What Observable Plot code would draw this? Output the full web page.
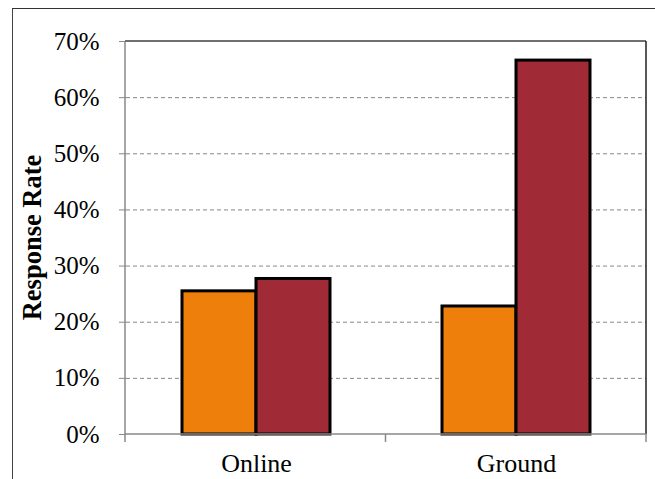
<!DOCTYPE html>
<html>
<head>
<meta charset="utf-8">
<script src="https://cdn.jsdelivr.net/npm/d3@7"></script>
<script src="https://cdn.jsdelivr.net/npm/@observablehq/plot@0.6"></script>
<style>
  html, body { margin: 0; padding: 0; background: #fff; }
  #wrap { position: relative; width: 655px; height: 479px; overflow: hidden; }
  #border { position: absolute; left: 12px; top: 8px; width: 700px; height: 500px;
            border-top: 1.5px solid #333; border-left: 1.5px solid #444; }
  #chart { position: absolute; left: 0; top: 0; }
</style>
</head>
<body>
<div id="wrap"><div id="border"></div><div id="chart"></div></div>
<script>
const categories = ["Online", "Ground"];
const seriesNames = ["Series 1", "Series 2"];
const series1 = [25.5, 22.8];
const series2 = [27.7, 66.6];
const yTicks = [0, 10, 20, 30, 40, 50, 60, 70];
const yTickLabels = ["0%", "10%", "20%", "30%", "40%", "50%", "60%", "70%"];
const colors = ["#EE7F0B", "#A12A37"];
const yLabel = "Response Rate";

const data = [];
categories.forEach((c, i) => {
  data.push({category: c, series: seriesNames[0], value: series1[i]});
  data.push({category: c, series: seriesNames[1], value: series2[i]});
});

const W = 655, H = 479;
const chart = Plot.plot({
  width: W, height: H,
  marginLeft: 125, marginRight: 9, marginTop: 41, marginBottom: 45,
  style: {fontFamily: "'Liberation Serif', 'Times New Roman', serif", fontSize: "25px", color: "#000", background: "transparent"},
  fx: {domain: categories, paddingInner: 0, paddingOuter: 0, label: null},
  x: {domain: seriesNames, paddingInner: 0, paddingOuter: 0.737, axis: null},
  y: {domain: [0, 70], label: null},
  color: {domain: seriesNames, range: colors},
  marks: [
    Plot.gridY(yTicks.filter(d => d > 0 && d < 70), {stroke: "#888", strokeOpacity: 1, strokeWidth: 1, strokeDasharray: "4,3"}),
    Plot.barY(data, {fx: "category", x: "series", y: "value", fill: "series", stroke: "#000", strokeWidth: 3}),
    Plot.axisY(yTicks, {tickFormat: (d, i) => yTickLabels[yTicks.indexOf(d)], tickSize: 7, tickPadding: 20, stroke: "#888", label: null, fontSize: 25}),
    Plot.axisFx({anchor: "bottom", tickSize: 0, tickPadding: 19, label: null, fontSize: 26})
  ]
});
document.getElementById("chart").appendChild(chart);

// Frame lines and category-boundary ticks derived from the plot's own scales
const fxS = chart.scale("fx");
const yS = chart.scale("y");
const band = d3.scaleBand().domain(fxS.domain).range(fxS.range)
  .paddingInner(fxS.paddingInner ?? 0).paddingOuter(fxS.paddingOuter ?? 0);
const y = d3.scaleLinear().domain(yS.domain).range(yS.range);
const x0 = fxS.range[0], x1 = fxS.range[1];
const yb = y(yS.domain[0]), yt = y(yS.domain[1]);
const svg = d3.select(chart);
const g = svg.append("g");
g.append("line").attr("x1", x0).attr("x2", x1).attr("y1", yt).attr("y2", yt).attr("stroke", "#404040").attr("stroke-width", 1.5);
g.append("line").attr("x1", x1).attr("x2", x1).attr("y1", yt).attr("y2", yb).attr("stroke", "#202020").attr("stroke-width", 1.5);
g.append("line").attr("x1", x0).attr("x2", x0).attr("y1", yt).attr("y2", yb).attr("stroke", "#888").attr("stroke-width", 1.5);
g.append("line").attr("x1", x0).attr("x2", x1).attr("y1", yb).attr("y2", yb).attr("stroke", "#888").attr("stroke-width", 1.5);
const edges = [band(fxS.domain[0])].concat(fxS.domain.map(d => band(d) + band.bandwidth()));
edges.forEach(ex => {
  g.append("line").attr("x1", ex).attr("x2", ex).attr("y1", yb).attr("y2", yb + 8).attr("stroke", "#888").attr("stroke-width", 1.5);
});
svg.append("text").text(yLabel)
  .attr("transform", `translate(32,${(yb + yt) / 2}) rotate(-90)`)
  .attr("text-anchor", "middle").attr("dominant-baseline", "central")
  .attr("font-weight", "bold").attr("font-size", 26.5)
  .attr("font-family", "'Liberation Serif', 'Times New Roman', serif");
</script>
</body>
</html>
